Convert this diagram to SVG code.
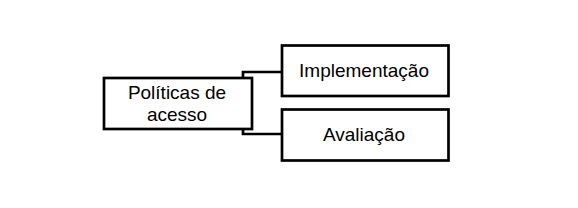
<svg xmlns="http://www.w3.org/2000/svg" width="578" height="208" viewBox="0 0 578 208">
<style>
.box{fill:#fff;stroke:#000;stroke-width:2.7}
.conn{fill:none;stroke:#000;stroke-width:2.7}
.t{font-family:"Liberation Sans",Arial,sans-serif;font-size:19px;fill:#000;text-anchor:middle}
</style>
<rect width="578" height="208" fill="#fff"/>
<g id="connectors">
<path class="conn" d="M243,78 V72 H282"/>
<path class="conn" d="M243,129 V134 H282"/>
</g>
<g id="node-politicas">
<rect class="box" x="104" y="78" width="148" height="51"/>
<text class="t" x="177" y="99.2">Políticas de</text>
<text class="t" x="177" y="120.8">acesso</text>
</g>
<g id="node-implementacao">
<rect class="box" x="282" y="45.5" width="166.5" height="50.5"/>
<text class="t" x="364" y="77">Implementação</text>
</g>
<g id="node-avaliacao">
<rect class="box" x="282" y="109.5" width="166.5" height="51"/>
<text class="t" x="364" y="141">Avaliação</text>
</g>
</svg>
